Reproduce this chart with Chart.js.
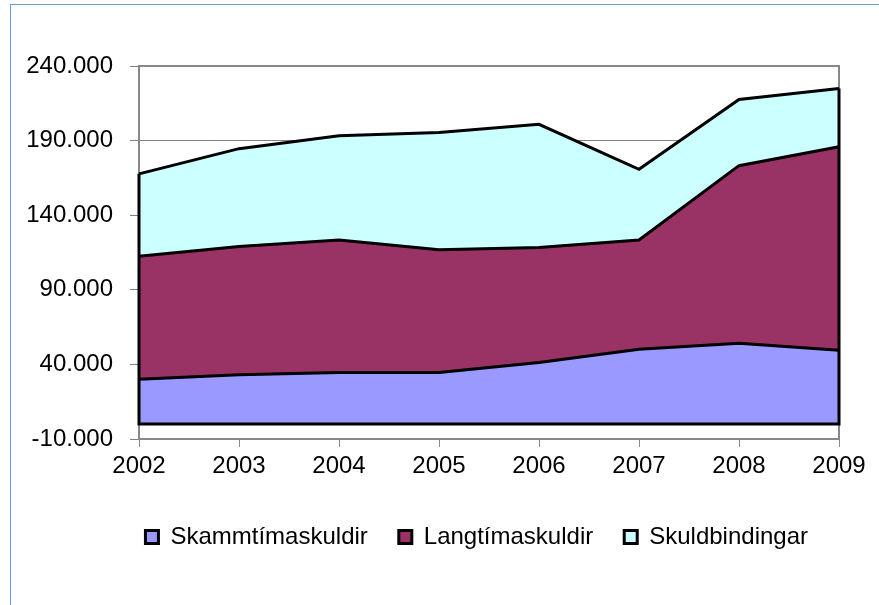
<!DOCTYPE html>
<html>
<head>
<meta charset="utf-8">
<script src="https://cdn.jsdelivr.net/npm/chart.js@4/dist/chart.umd.min.js"></script>
<style>
  body { margin: 0; background: #fff; }
  #wrap { position: relative; width: 879px; height: 605px; }
  #kantur { position: absolute; left: 10px; top: 4px; right: 0; bottom: 0;
            border-top: 1px solid #6f9ad3; border-left: 1px solid #6f9ad3; }
  canvas { position: absolute; left: 0; top: 0; }
</style>
</head>
<body>
<div id="wrap">
  <canvas id="myChart" width="879" height="605"></canvas>
  <div id="kantur"></div>
</div>
<script>
// ár og gildi lesin af myndinni
const ar = ['2002', '2003', '2004', '2005', '2006', '2007', '2008', '2009'];
const skammtima = [30100, 33000, 34500, 34500, 41200, 50100, 54100, 49500];
const langtima = [82400, 86100, 88900, 82400, 77100, 73300, 119100, 136400];
const skuldbindingar = [55200, 65500, 69900, 78600, 82600, 47400, 44400, 39000];

const leturgerd = "'Liberation Sans', Arial, sans-serif";

// punktur sem þúsundaskil, eins og í Excel
function snida(v) {
    return String(v).replace(/\B(?=(\d{3})+(?!\d))/g, '.');
}

// grár rammi um teiknisvæðið og svartar brúnir á flötunum
const rammi = {
    id: 'rammi',
    beforeDatasetsDraw(chart) {
        const { ctx, chartArea: a } = chart;
        ctx.save();
        ctx.strokeStyle = '#888';
        ctx.lineWidth = 2;
        ctx.strokeRect(a.left, a.top, a.right - a.left, a.bottom - a.top);
        ctx.restore();
    },
    afterDatasetsDraw(chart) {
        const { ctx } = chart;
        const efst = chart.getDatasetMeta(2).data;
        const y0 = chart.scales.y.getPixelForValue(0);
        const fyrsti = efst[0];
        const sidasti = efst[efst.length - 1];
        ctx.save();
        ctx.strokeStyle = '#000';
        ctx.lineWidth = 3;
        ctx.beginPath();
        ctx.moveTo(fyrsti.x, fyrsti.y);
        ctx.lineTo(fyrsti.x, y0);
        ctx.lineTo(sidasti.x, y0);
        ctx.lineTo(sidasti.x, sidasti.y);
        ctx.stroke();
        ctx.restore();
    }
};

const data = {
    labels: ar,
    datasets: [
        { label: 'Skammtímaskuldir', data: skammtima, backgroundColor: '#9999ff', fill: 'origin' },
        { label: 'Langtímaskuldir', data: langtima, backgroundColor: '#993366', fill: '-1' },
        { label: 'Skuldbindingar', data: skuldbindingar, backgroundColor: '#ccffff', fill: '-1' }
    ]
};

const config = {
    type: 'line',
    data: data,
    plugins: [rammi],
    options: {
        responsive: false,
        animation: false,
        devicePixelRatio: 1,
        layout: { padding: { top: 66, right: 40, bottom: 46, left: 0 } },
        elements: {
            line: { borderColor: '#000', borderWidth: 3, tension: 0 },
            point: { radius: 0 }
        },
        plugins: {
            tooltip: { enabled: false },
            legend: {
                position: 'bottom',
                align: 'end',   // lætur skýringuna byrja undir ~2002 eins og í frumritinu
                labels: {
                    color: '#000',
                    font: { family: leturgerd, size: 24 },
                    boxWidth: 13,
                    boxHeight: 13,
                    padding: 31
                }
            }
        },
        scales: {
            x: {
                offset: false,
                grid: { drawOnChartArea: false, color: '#888', tickLength: 8 },
                border: { display: false },
                ticks: { color: '#000', font: { family: leturgerd, size: 24 }, maxRotation: 0, autoSkip: false, padding: 5 },
                afterFit(scale) { scale.height = 55; }
            },
            y: {
                stacked: true,
                min: -10000,
                max: 240000,
                grid: { color: '#808080', lineWidth: 1, tickLength: 9 },
                border: { display: false },
                ticks: {
                    stepSize: 50000,
                    color: '#000',
                    font: { family: leturgerd, size: 24 },
                    padding: 17,
                    callback: v => snida(v)
                },
                afterFit(scale) { scale.width = 139; }
            }
        }
    }
};

const myChart = new Chart(document.getElementById('myChart'), config);
</script>
</body>
</html>
